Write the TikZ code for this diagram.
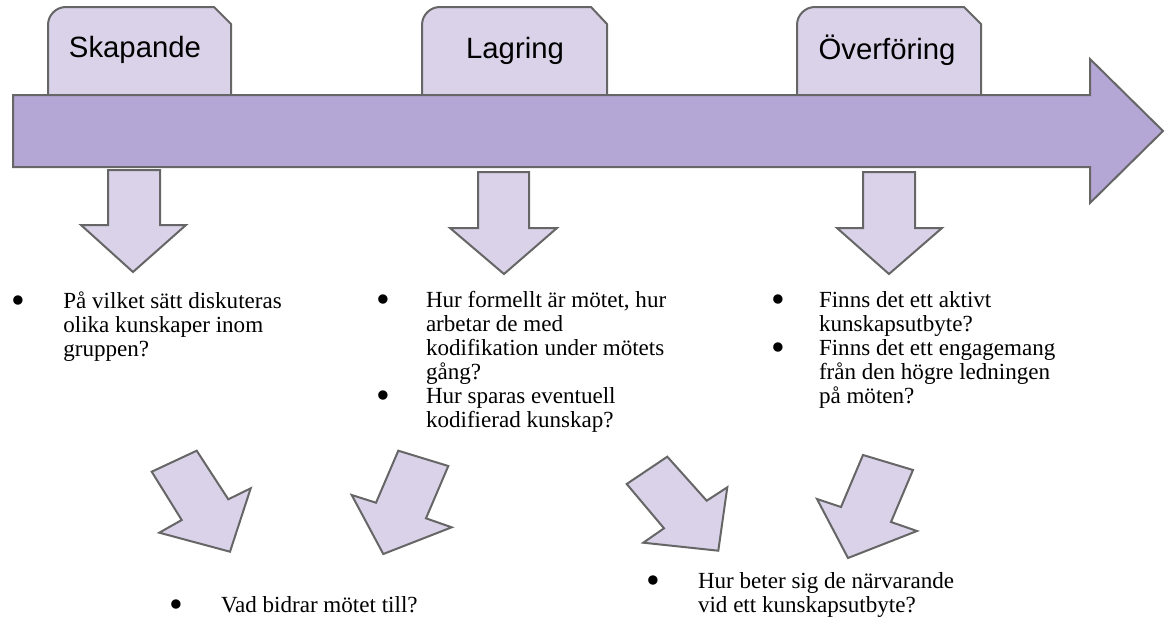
\documentclass[tikz,border=0pt]{standalone}
\usepackage{fontspec}
\usepackage{graphicx}
\setmainfont{Liberation Serif}
\newfontfamily\tabfont{Liberation Sans}

\definecolor{tabfill}{RGB}{217,210,233}
\definecolor{arrfill}{RGB}{180,167,214}
\definecolor{edgegray}{RGB}{102,102,102}

\newcommand\qbullet{\smash{\raisebox{-0.22em}{\scalebox{1.7}{\textbullet}}}}

\tikzset{every picture/.style={line width=1.5pt}}
\tikzset{
  tabshape/.style={draw=edgegray, fill=tabfill, line join=round},
  bigarrow/.style={draw=edgegray, fill=arrfill},
  smallarrow/.style={draw=edgegray, fill=tabfill},
  tabtext/.style={font=\tabfont\fontsize{22}{26}\selectfont, inner sep=0pt, anchor=base},
  qtext/.style={font=\fontsize{17.3}{18}\selectfont, inner sep=0pt, anchor=base west},
}

\begin{document}
\begin{tikzpicture}[x=0.75pt,y=0.75pt,yscale=-1,xscale=1]
\useasboundingbox (0,0) rectangle (1165,621);

% tabs
\draw [tabshape] (48,100) -- (48,25) arc (180:270:18) -- (214,7) -- (231,24) -- (231,100) -- cycle ;
\draw [tabshape] (422,100) -- (422,25) arc (180:270:18) -- (591,7) -- (607,24) -- (607,100) -- cycle ;
\draw [tabshape] (797,100) -- (797,25) arc (180:270:18) -- (964,7) -- (981,24) -- (981,100) -- cycle ;

% time line
\draw [bigarrow] (13,95) -- (1090,95) -- (1090,59) -- (1163,131) -- (1090,203) -- (1090,167) -- (13,167) -- cycle ;

% down arrows
\draw [smallarrow] (108,170) -- (160,170) -- (160,225) -- (186,225) -- (133,272) -- (81,225) -- (108,225) -- cycle ;
\draw [smallarrow] (478,172) -- (529,172) -- (529,228) -- (557,228) -- (504,274) -- (450,228) -- (478,228) -- cycle ;
\draw [smallarrow] (863,172) -- (915,172) -- (915,228) -- (942,228) -- (889,274) -- (837,228) -- (863,228) -- cycle ;

% slanted arrows
\draw [smallarrow] (151.7,471.7) -- (196.7,450.7) -- (228.3,499.3) -- (250.7,488.3) -- (230,551.7) -- (159.3,532.7) -- (181.7,520) -- cycle ;
\draw [smallarrow] (398.3,450.7) -- (448.3,466) -- (426,518.3) -- (451.7,527.3) -- (383.3,554) -- (351.7,495) -- (376,502.7) -- cycle ;
\draw [smallarrow] (626.7,484) -- (667.3,456.7) -- (706.7,500.7) -- (727.3,487.3) -- (718.3,550.7) -- (643.3,542.7) -- (664,528.3) -- cycle ;
\draw [smallarrow] (863,455) -- (913,470) -- (891,522) -- (917,531) -- (848,558) -- (817,499) -- (841,507) -- cycle ;

\node [tabtext] (skapande) at (135,57) {Skapande};
\node [tabtext] (lagring) at (515,58) {Lagring};
\node [tabtext] (overforing) at (887,60) {Överföring};

\node [qtext] (q1) at (11,308) {\begin{tabular}[t]{@{}p{38.5pt}@{}l@{}}
\qbullet & På vilket sätt diskuteras\\
 & olika kunskaper inom\\
 & gruppen?
\end{tabular}};
\node [qtext] (q2) at (375,307) {\begin{tabular}[t]{@{}p{37.5pt}@{}l@{}}
\qbullet & Hur formellt är mötet, hur\\
 & arbetar de med\\
 & kodifikation under mötets\\
 & gång?\\
\qbullet & Hur sparas eventuell\\
 & kodifierad kunskap?
\end{tabular}};
\node [qtext] (q3) at (770,307) {\begin{tabular}[t]{@{}p{36pt}@{}l@{}}
\qbullet & Finns det ett aktivt\\
 & kunskapsutbyte?\\
\qbullet & Finns det ett engagemang\\
 & från den högre ledningen\\
 & på möten?
\end{tabular}};
\node [qtext] (q4) at (168,612) {\makebox[39pt][l]{\qbullet}Vad bidrar mötet till?};
\node [qtext] (q5) at (645,588) {\begin{tabular}[t]{@{}p{39pt}@{}l@{}}
\qbullet & Hur beter sig de närvarande\\
 & vid ett kunskapsutbyte?
\end{tabular}};

\end{tikzpicture}
\end{document}
